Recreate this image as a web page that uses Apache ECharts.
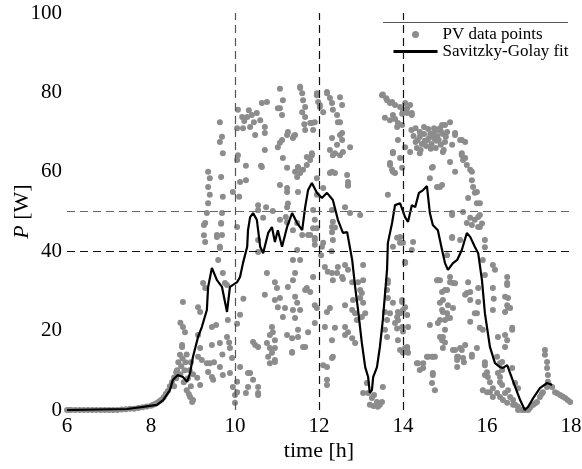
<!DOCTYPE html>
<html>
<head>
<meta charset="utf-8">
<script src="https://cdn.jsdelivr.net/npm/echarts@6/dist/echarts.min.js"></script>
<style>
  html, body { margin: 0; padding: 0; background: #fff; }
  #chart { width: 582px; height: 469px; }
</style>
</head>
<body>
<div id="chart"></div>
<script>
// axis ticks
var xTicks = [6, 8, 10, 12, 14, 16, 18];
var yTicks = [0, 20, 40, 60, 80, 100];
var vLines = [10, 12, 14];
var hLines = [40, 50];

// PV data points [time h, P W]
var pvPoints = [
  [6.0,0],[6.05,0],[6.1,0],[6.2,0],[6.3,0],[6.4,0],[6.5,0],[6.6,0],[6.7,0],[6.8,0],[6.9,0],[7.0,0],[7.1,0],[7.2,0],
  [7.3,0.1],[7.4,0.2],[7.5,0.3],[7.6,0.3],[7.7,0.5],[7.8,0.7],[7.9,0.9],[8.0,1.1],[8.05,1.3],[8.1,1.5],[8.15,1.8],
  [8.2,2.2],[8.25,2.6],[8.3,3.2],[8.35,4.0],[8.4,4.8],[8.45,6.0],[8.5,7.0],[8.55,8.2],[8.6,9.5],
  [8.55,6],[8.6,8],[8.62,10],[8.65,12],[8.7,9],[8.72,11],[8.75,13],[8.78,7],[8.8,10],[8.82,12],[8.85,5],[8.88,8],
  [8.9,4],[8.93,3.3],[8.95,6],[8.98,2],[9.0,2.5],[8.92,10],[8.85,14],[8.74,15.9],[8.69,13.9],[8.74,16.4],[8.76,20.9],
  [8.81,19.6],[8.7,22],[8.76,27.2],[8.95,12],[9.0,9],
  [9.1,8.1],[9.17,6.3],[9.12,13.4],[9.21,12.6],[9.12,18.9],[9.17,15.6],[9.12,25.9],[9.17,24.7],[9.24,32],[9.29,30.7],
  [9.33,11.8],[9.36,9.6],[9.4,11.8],[9.45,8.3],[9.48,7.6],[9.45,16.4],[9.45,20.9],[9.55,21.4],[9.5,12],[9.64,16.9],
  [9.64,10.8],[9.71,8.8],[9.6,37.8],[9.64,41.1],[9.57,44.1],[9.67,46.9],[9.26,46.6],[9.29,42.3],[9.71,34.5],[9.76,32],
  [9.81,31.5],[9.83,22.7],[9.81,18.4],[9.88,15.6],[9.88,9.3],[9.93,13.1],[9.95,5.8],[10.0,3.8],[10.0,1.8],[10.05,7.1],
  [10.05,4.5],[10.05,21.7],[10.12,10.8],[9.86,17.0],[9.7,14],
  [9.36,60],[9.4,58.4],[9.36,56.2],[9.4,54.2],[9.36,52.1],[9.33,49.6],[9.29,47.1],[9.26,44],[9.64,72.5],[9.69,68.8],
  [9.64,67.5],[9.71,64.7],[9.67,58.7],[9.95,54.9],[9.71,53.7],[9.69,49.6],[9.67,47.1],[9.64,40.8],[9.69,44.1],[9.57,43.6],
  [10.07,75.6],[10.05,71],[10.17,73.8],[10.29,73.8],[10.4,74.3],[10.52,74.8],[10.64,77.3],[10.76,77.6],[11.07,80.9],
  [11.14,78],[11.02,76],[11.12,74.3],[10.19,71],[10.36,71.3],[10.48,69.3],[10.71,69.8],[10.71,71.3],[11.24,69.3],
  [11.12,68],[11.02,66.2],[10.71,65.5],[10.07,64.2],[10.05,63],[10.26,61.5],[10.62,61.5],[11.14,63.5],[11.24,61],
  [10.12,57.4],[10.26,57.9],[10.1,53.7],[11.07,56.7],[11.24,54.9],[10.55,51.6],[10.74,51.1],[10.9,50.1],[11.24,51.1],
  [10.67,48.4],[11.21,48.6],[10.05,46.1],[10.45,72.5],[10.6,73],[10.33,75.5],[10.22,72.8],[10.64,61.2],[11.07,67.3],
  [11.07,76],[11.07,47.9],[11.24,47.3],[10.55,39.8],[10.55,50.3],
  [10.36,9.3],[10.43,7.6],[10.55,5.8],[10.31,5.8],[10.55,4.3],[10.26,4.3],[10.31,9.3],[10.55,3.8],[10.43,17.1],
  [10.48,16.4],[10.55,15.9],[10.76,16.9],[10.83,15.6],[10.95,15.6],[10.88,14.4],[10.79,13.4],[10.95,12.6],[10.95,12.1],
  [10.83,11.8],[10.71,29],[10.76,34.5],[10.95,32.2],[11.0,30.7],[10.95,27.7],[11.07,28.2],[11.02,25.9],[11.19,25.7],
  [11.14,23.4],[10.88,20.9],[10.9,19.6],[10.83,18.9],[10.95,17.6],[11.26,31],[11.24,18.9],[11.36,14.6],[11.62,15.9],
  [10.55,42.8],[10.12,24],[10.2,28],
  [11.55,81.1],[11.6,79.8],[11.62,78],[11.67,76.3],[11.95,79.3],[11.98,77.6],[12.02,76.3],[12.1,75],[12.19,79.8],
  [12.26,78.6],[12.31,77.3],[12.33,75.6],[12.43,74.3],[12.5,78.8],[12.55,76.8],[12.5,72.5],[11.67,73.8],[11.79,72.3],
  [11.9,72.5],[11.86,70.5],[11.67,70.5],[11.43,69.3],[12.31,68.5],[12.5,69.3],[12.55,68],[12.74,66.2],[12.26,65.5],
  [12.38,64.7],[12.5,64.2],[12.57,65],[11.83,64.2],[11.79,63],[11.71,61.7],[11.5,61.2],[11.43,60],[11.55,59.7],
  [11.62,60.5],[12.26,59.7],[12.38,59.7],[11.95,58.4],[12.69,57.4],[12.69,56.5],[12.1,55.9],[12.62,51.1],[12.74,49.6],
  [12.98,49.1],[11.86,50.4],[11.9,47.9],[12.33,47.4],[12.31,50.4],[12.31,44.8],[11.86,45.8],[11.48,47.1],[11.55,81.4],
  [11.95,79.8],[12.19,80.1],[12.02,76.8],[11.6,75],[11.65,72],[11.26,70],[11.38,68.5],[11.83,72.3],[12.45,72.5],
  [12.55,69.8],[12.43,66.8],[12.33,64.2],[11.4,69],[11.5,61],[11.48,58.7],[11.71,63.7],[11.83,64.7],[12.31,60],
  [12.67,59.2],[12.69,56.7],[11.24,55.9],[11.5,54.9],[11.95,54.2],[11.74,44.1],[11.95,45.8],[11.9,42.8],[12.38,46],
  [12.33,42.8],[11.48,40.3],[11.26,52],
  [11.38,45.3],[11.6,44.1],[11.79,44.1],[11.9,43.3],[11.9,41.6],[11.38,37.8],[11.55,37.8],[11.43,34.5],[11.38,32.7],
  [11.43,28.5],[11.48,27],[11.38,25.2],[11.55,25.2],[11.43,23.2],[11.71,30.7],[11.67,30.2],[11.79,29.7],[11.86,33.5],
  [11.9,26.4],[11.95,25.7],[11.9,21.9],[11.74,19.6],[11.5,20.2],[11.5,18.4],[11.36,18.1],[11.67,15.9],[11.36,14.4],
  [12.07,41.1],[12.1,42.1],[12.31,46.1],[12.14,36],[12.21,34.8],[12.31,34.5],[12.43,34.5],[12.55,33.5],[12.69,35.3],
  [12.62,36.5],[12.45,36],[12.33,32.7],[12.57,33],[12.79,32.2],[12.93,32.2],[12.98,30.2],[13.02,29.5],[12.98,28.2],
  [13.05,27],[12.81,27.7],[12.62,26.4],[12.79,25.2],[12.86,24.4],[12.9,22.7],[13.02,23.4],[12.26,25.7],[12.19,24.7],
  [12.14,20.9],[12.38,20.7],[12.62,20.9],[12.69,19.6],[12.62,18.9],[12.79,18.1],[12.86,16.9],[12.31,13.1],[12.19,10.8],
  [12.19,7.6],[12.19,6.3],[13.14,6.8],[13.17,4.3],[13.26,3],[13.31,3.8],[13.38,2],[13.45,1.3],[13.5,2],[13.52,5.8],
  [13.21,1.3],[13.05,4.3],[13.3,1],[13.4,0.8],[12.31,17.6],[12.1,11.3],[12.33,13.4],[13.05,36.5],[13.05,32.7],
  [13.1,24.4],[12.3,40],[12.05,39],
  [13.5,79.3],[13.62,78],[13.69,77.3],[13.81,76.8],[13.93,76.3],[14.05,77.3],[14.0,75.6],[14.1,74.8],[14.21,74.3],
  [13.57,73.6],[13.69,73],[13.81,73.3],[13.88,72.3],[13.86,71.3],[13.52,79.5],[13.6,78.5],[13.74,77.6],[14.17,76.8],
  [14.1,76],[13.98,74.6],[13.76,74.3],[14.21,74.8],[13.98,71.8],
  [14.2,70.5],[14.25,69],[14.3,71],[14.35,68],[14.4,70],[14.45,67],[14.5,69.5],[14.55,66.5],[14.6,70.8],[14.62,68.5],
  [14.68,67],[14.72,69.8],[14.78,66],[14.8,70.5],[14.85,68],[14.9,66.8],[14.95,69.5],[15.0,67.5],[15.05,70],[14.33,66],
  [14.42,65.5],[14.5,71.3],[14.58,68],[14.66,65.8],[14.75,68.3],[14.88,71],[14.3,67.5],[14.4,68.8],[14.52,67.8],
  [14.65,69.5],[14.74,71],[14.82,69],[14.97,65.5],[15.02,68.8],[14.7,69],[14.8,67.8],[14.9,70.3],
  [13.88,68],[14.05,66.2],[13.76,64.7],[13.93,63.5],[13.69,61.7],[13.74,60.5],[13.81,59.7],[13.98,61],[13.64,54.2],
  [14.71,61.2],[14.81,56.2],[14.93,71.8],[15.12,72.5],[15.0,71.8],[15.24,69.3],[15.36,68],[15.48,67.5],[15.4,64.7],
  [15.48,63.5],[15.52,61.7],[15.6,60.5],[15.64,57.9],[15.67,56.2],[15.71,54.7],[15.55,53.4],[15.76,52.1],[15.79,48.6],
  [15.71,47.9],[15.83,46.1],[14.88,56.2],[14.64,58.4],[14.69,61],[14.4,64.7],[14.17,65],[13.76,65],[13.69,62.2],
  [13.76,60],[15.43,49.9],[15.17,49.1],[15.52,47.1],[15.17,43.3],[15.36,42.8],[13.93,43.6],[14.0,42.1],[14.24,42.3],
  [14.21,40.3],[13.76,41.1],[14.05,37.3],[15.05,39],[15.9,37.8],[15.95,34],[16.14,36.5],[16.19,35.3],[16.48,33.5],
  [16.48,32],[15.12,33.5],[15.19,32],[14.88,32.7],[15.55,32.2],[15.0,30.2],[14.95,27.7],[14.93,25.2],[15.05,24.4],
  [15.07,23.2],[15.52,29.5],[15.6,27.7],[15.79,30.7],[15.76,24.4],[16.14,30.7],[16.14,25.2],[16.43,28.5],[16.5,25.9],
  [16.6,20.7],[13.64,32.7],[13.62,30.2],[13.69,24.4],[13.81,21.9],[13.98,27.7],[13.88,24.7],[14.0,25.2],[13.86,20.5],
  [14.12,20.9],[14.0,19.8],[14.64,21.4],[14.83,21.9],
  [15.12,62.5],[15.24,60],[15.24,69.8],[15.4,68],[15.17,66.8],[14.95,65],[15.4,64.2],[15.43,63],[15.64,60],
  [14.93,56.7],[15.76,54.9],[15.83,52.1],[15.17,49.6],[15.6,48.4],[15.83,49.1],[15.88,47],[15.64,46.6],[15.79,46.1],
  [15.95,42.8],[15.95,41],[15.17,43.6],
  [13.64,32],[13.64,28.2],[13.57,24.7],[13.62,22.7],[13.57,20.2],[13.62,18.4],[13.76,27],[13.86,23.4],[13.88,22.6],
  [13.93,24.4],[13.98,27.2],[14.05,25.9],[14.1,23.9],[13.98,20.9],[14.1,15.9],[14.05,15.6],[14.12,14.4],[13.93,15.1],
  [14.0,14.4],[14.05,37],[13.93,42.1],[13.86,43.4],[14.36,11.8],[14.48,11.8],[14.48,10.6],[14.6,13.4],[14.71,13.4],
  [14.71,8.8],[14.69,6.8],[14.76,5],[14.81,32.7],[13.88,17.6],[14.1,15.1],[14.33,11.8],[14.4,10.1],[14.57,13.4],
  [14.76,13.4],[14.71,9.3],
  [14.83,32.7],[14.93,29.7],[15.05,30.2],[15.12,32.2],[15.24,31.9],[15.6,29.7],[15.48,29],[14.88,27],[14.95,24.7],
  [15.07,26.4],[15.19,25.7],[14.88,22.7],[15.0,22.7],[15.12,23.2],[15.0,20.2],[14.88,18.4],[14.93,17.6],[14.95,15.6],
  [15.24,15.1],[15.36,15.6],[15.48,16.4],[15.31,13.4],[15.43,13.1],[15.29,12.6],[15.64,13.4],[14.69,13.4],[15.6,22.2],
  [15.71,24.4],[15.76,15.6],[15.79,27.2],[15.83,20.7],[15.9,20.2],[16.16,28],[16.48,31.5],[16.5,28.2],[16.48,26.4],
  [16.55,25.7],[16.43,24.7],[16.6,20.2],[16.43,18.9],[16.26,18.4],[16.43,15.9],[16.24,13.4],[16.31,11.8],[16.36,10.1],
  [16.31,8.3],[16.36,6.3],[16.6,10.6],[15.95,11.3],[16.0,9.5],[16.02,8.3],[16.07,7],[16.14,5.5],[16.0,4.5],[16.24,4.3],
  [16.31,3.3],[16.38,2.5],[16.43,4.3],[16.5,5],[16.55,3.3],[16.62,2.5],[16.67,1.3],[16.74,0.8],[16.83,0],[16.9,0],
  [16.98,0],[16.74,5.5],[16.67,6.8],[15.9,5],[16.07,4.5],[16.14,3.3],[16.26,9.3],[16.31,7],[16.36,12.1],[16.48,17.6],
  [16.48,1.8],[16.62,1.3],[16.74,0],[15.29,10.8],[15.45,12],[15.64,13.9],[15.95,12],[15.95,8.8],[15.19,15.1],
  [15.29,13.4],[15.4,15.1],[14.95,18.4],[15.0,17],
  [17.38,15.1],[17.38,13.9],[17.43,12.1],[17.43,10.6],[17.45,8.8],[17.45,7.1],[17.43,5.8],[17.33,4.5],[17.26,3.3],
  [17.19,2],[17.1,1.3],[17.02,0.5],[17.55,5.8],[17.62,4.5],[17.74,3.8],[17.86,3],[17.98,2],[17.48,6.3],[17.67,4.2],
  [17.8,3.4],[17.92,2.5],[17.05,1],[17.15,1.7],[17.3,4]
];

// Savitzky-Golay fit [time h, P W]
var sgFit = [
  [6.00,0],[7.43,0.25],[7.81,0.8],[8.14,1.3],[8.29,2.5],[8.45,5.0],[8.52,7.6],[8.64,8.8],[8.76,8.3],[8.86,7.1],
  [8.93,9.3],[9.00,13.4],[9.12,18.4],[9.21,20.9],[9.33,25.2],[9.36,31.0],[9.45,35.8],[9.48,36.0],[9.57,32.7],
  [9.69,31.0],[9.81,24.7],[9.88,31.0],[10.05,32.2],[10.12,33.5],[10.19,37.0],[10.29,41.1],[10.31,45.3],[10.36,48.6],
  [10.43,49.6],[10.52,47.9],[10.60,41.1],[10.67,39.5],[10.79,44.6],[10.88,46.1],[10.95,42.3],[11.02,45.3],[11.12,41.1],
  [11.24,46.1],[11.36,49.6],[11.48,47.1],[11.60,45.3],[11.67,51.1],[11.74,55.4],[11.83,57.2],[11.95,54.7],[12.07,53.4],
  [12.19,54.7],[12.33,52.9],[12.45,47.9],[12.57,44.6],[12.67,44.8],[12.79,37.8],[12.86,31.0],[12.93,25.2],[13.02,16.9],
  [13.10,10.8],[13.17,8.3],[13.21,4.3],[13.26,5.0],[13.29,8.3],[13.38,10.8],[13.45,15.9],[13.52,22.7],[13.62,35.3],
  [13.64,42.1],[13.74,47.1],[13.81,51.6],[13.93,52.1],[14.05,48.6],[14.12,47.4],[14.21,51.6],[14.29,51.1],[14.38,54.7],
  [14.48,55.4],[14.57,56.4],[14.64,49.6],[14.71,46.6],[14.83,45.3],[14.93,40.3],[15.00,37.0],[15.07,35.3],[15.19,37.0],
  [15.29,37.8],[15.40,40.3],[15.52,44.6],[15.60,43.6],[15.71,41.1],[15.79,39.5],[15.88,32.7],[15.95,24.4],[16.07,15.9],
  [16.19,11.8],[16.31,10.8],[16.38,10.6],[16.48,11.3],[16.55,9.3],[16.67,5.8],[16.79,2.5],[16.90,0],[16.98,0.8],
  [17.10,3.0],[17.26,5.5],[17.43,6.8],[17.55,6.3]
];

var serif = 'Liberation Serif';
var chart = echarts.init(document.getElementById('chart'));

var marks = [];
vLines.forEach(function (v) {
  marks.push({ xAxis: v, lineStyle: { color: v === 10 ? '#555' : '#111' } });
});
hLines.forEach(function (v) {
  marks.push({ yAxis: v, lineStyle: { color: v === 50 ? '#666' : '#111' } });
});

var option = {
  animation: false,
  backgroundColor: '#fff',
  grid: { left: 67, right: 11, top: 13, bottom: 59, outerBoundsMode: 'none', containLabel: false },
  xAxis: {
    type: 'value',
    min: xTicks[0],
    max: xTicks[xTicks.length - 1],
    interval: 2,
    name: 'time [h]',
    nameLocation: 'middle',
    nameGap: 30,
    nameMoveOverlap: false,
    nameTextStyle: { fontFamily: serif, fontSize: 22, color: '#000' },
    axisLine: { show: false },
    axisTick: { show: false },
    splitLine: { show: false },
    axisLabel: { fontFamily: serif, fontSize: 21, color: '#000', margin: 6 }
  },
  yAxis: {
    type: 'value',
    min: yTicks[0],
    max: yTicks[yTicks.length - 1],
    interval: 20,
    name: '{i|P} [W]',
    nameLocation: 'middle',
    nameGap: 34,
    nameMoveOverlap: false,
    nameTextStyle: {
      fontFamily: serif, fontSize: 22, color: '#000',
      rich: { i: { fontFamily: serif, fontSize: 22, fontStyle: 'italic', color: '#000' } }
    },
    axisLine: { show: false },
    axisTick: { show: false },
    splitLine: { show: false },
    axisLabel: { fontFamily: serif, fontSize: 21, color: '#000', margin: 5 }
  },
  legend: {
    orient: 'vertical',
    left: 392,
    top: 26,
    padding: 0,
    itemGap: 0,
    itemWidth: 44,
    itemHeight: 7,
    z: 5,
    textStyle: { fontFamily: serif, fontSize: 17, color: '#000', lineHeight: 16 },
    data: [
      { name: 'PV data points', icon: 'circle' },
      { name: 'Savitzky-Golay fit', itemStyle: { opacity: 0 }, lineStyle: { width: 3 } }
    ]
  },
  graphic: [
    {
      type: 'rect', z: 3,
      shape: { x: 383, y: 22, width: 185, height: 46 },
      style: { fill: '#fff' }
    },
    {
      type: 'line', z: 3,
      shape: { x1: 383, y1: 22.5, x2: 568, y2: 22.5 },
      style: { stroke: '#555', lineWidth: 1 }
    }
  ],
  series: [
    {
      name: 'PV data points',
      type: 'scatter',
      data: pvPoints,
      symbolSize: 6,
      itemStyle: { color: '#8c8c8c', opacity: 1 },
      z: 1
    },
    {
      name: 'Savitzky-Golay fit',
      type: 'line',
      data: sgFit,
      symbol: 'none',
      lineStyle: { color: '#000', width: 2.2 },
      itemStyle: { color: '#000' },
      z: 2,
      markLine: {
        silent: true,
        symbol: ['none', 'none'],
        label: { show: false },
        lineStyle: { type: [8, 5], width: 1.2 },
        data: marks
      }
    }
  ]
};

chart.setOption(option);
</script>
</body>
</html>
